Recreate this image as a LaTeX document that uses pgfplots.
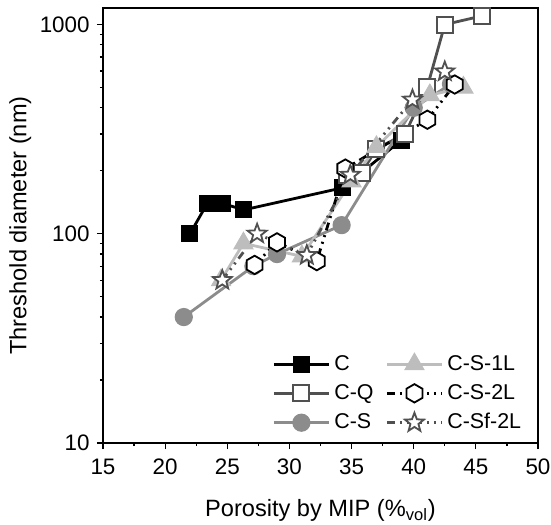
\documentclass[border=0pt]{standalone}
\usepackage{pgfplots}
\pgfplotsset{compat=1.18}
\usepackage{fontspec}
\setmainfont{Liberation Sans}
\definecolor{cq}{HTML}{505050}
\definecolor{cs}{HTML}{8C8C8C}
\definecolor{csl}{HTML}{BDBDBD}
\definecolor{csf}{HTML}{505050}
\pgfdeclareplotmark{hexagon}{%
  \pgfpathmoveto{\pgfpointpolar{90}{\pgfplotmarksize}}%
  \pgfpathlineto{\pgfpointpolar{150}{\pgfplotmarksize}}%
  \pgfpathlineto{\pgfpointpolar{210}{\pgfplotmarksize}}%
  \pgfpathlineto{\pgfpointpolar{270}{\pgfplotmarksize}}%
  \pgfpathlineto{\pgfpointpolar{330}{\pgfplotmarksize}}%
  \pgfpathlineto{\pgfpointpolar{30}{\pgfplotmarksize}}%
  \pgfpathclose
  \pgfusepathqfillstroke}
\pgfdeclareplotmark{star5}{%
  \pgfpathmoveto{\pgfpointpolar{90}{\pgfplotmarksize}}%
  \pgfpathlineto{\pgfpointpolar{126}{0.42\pgfplotmarksize}}%
  \pgfpathlineto{\pgfpointpolar{162}{\pgfplotmarksize}}%
  \pgfpathlineto{\pgfpointpolar{198}{0.42\pgfplotmarksize}}%
  \pgfpathlineto{\pgfpointpolar{234}{\pgfplotmarksize}}%
  \pgfpathlineto{\pgfpointpolar{270}{0.42\pgfplotmarksize}}%
  \pgfpathlineto{\pgfpointpolar{306}{\pgfplotmarksize}}%
  \pgfpathlineto{\pgfpointpolar{342}{0.42\pgfplotmarksize}}%
  \pgfpathlineto{\pgfpointpolar{18}{\pgfplotmarksize}}%
  \pgfpathlineto{\pgfpointpolar{54}{0.42\pgfplotmarksize}}%
  \pgfpathclose
  \pgfusepathqfillstroke}
\tikzset{
  sC/.style={black, line width=1.4pt, mark=square*, mark size=4pt, mark options={solid, fill=black, draw=black, line width=0.5pt}},
  sCQ/.style={cq, line width=1.4pt, mark=square*, mark size=4pt, mark options={solid, fill=white, draw=cq, line width=1pt}},
  sCS/.style={cs, line width=1.4pt, mark=*, mark size=4.3pt, mark options={solid, fill=cs, draw=cs, line width=0.5pt}},
  sCSL/.style={csl, line width=1.4pt, mark=triangle*, mark size=5.5pt, mark options={solid, fill=csl, draw=csl, line width=0.5pt}},
  sCS2/.style={black, line width=1.4pt, dash pattern=on 4pt off 2.5pt on 1pt off 2.5pt on 1pt off 2.5pt, mark=hexagon, mark size=4.6pt, mark options={solid, fill=white, draw=black, line width=0.9pt}},
  sCSf/.style={csf, line width=1.4pt, dash pattern=on 4pt off 2.5pt on 1pt off 2.5pt on 1pt off 2.5pt, mark=star5, mark size=5pt, mark options={solid, fill=white, draw=csf, line width=0.9pt}},
}
\begin{document}
\fontsize{10.5}{12.6}\selectfont
\begin{tikzpicture}
\begin{axis}[name=ax, width=217.5pt, height=217.5pt, scale only axis,
  xmin=15, xmax=50, ymode=log, ymin=10, ymax=1200,
  xtick={15,20,...,50}, minor x tick num=1,
  ytick={10,100,1000}, yticklabels={10,100,1000},
  minor ytick={20,30,40,50,60,70,80,90,200,300,400,500,600,700,800,900},
  xtick pos=bottom, ytick pos=left, tick align=outside,
  major tick length=3pt, minor tick length=1.6pt,
  every tick/.style={black, line width=0.6pt},
  axis line style={black, line width=0.7pt},
  /pgf/number format/assume math mode=true,
  tick label style={font=\fontsize{11.2}{13}\selectfont},
  xticklabel style={yshift=-1.2pt},
  label style={font=\fontsize{11.8}{14}\selectfont},
  xlabel={Porosity by MIP (\%\textsubscript{vol})},
  ylabel={Threshold diameter (nm)},
  xlabel style={at={(rel axis cs:0.5,-0.155)}, anchor=center},
  ylabel style={at={(rel axis cs:-0.19,0.5)}, anchor=center},
  legend columns=2,
  legend cell align=left,
  legend image code/.code={\draw[mark repeat=2,mark phase=2] plot coordinates {(0pt,0pt) (13.75pt,0pt) (27.5pt,0pt)};},
  legend style={draw=none, fill=none, at={(rel axis cs:0.985,0.006)}, anchor=south east,
    font=\fontsize{10.7}{12.8}\selectfont, row sep=1.5pt,
    /tikz/every even column/.append style={column sep=4pt}},
]
\addplot[sC, forget plot] coordinates {(22,100) (23.4,140) (24.6,140) (26.3,130) (34.3,166) (39,280)};
\addplot[sCQ, forget plot] coordinates {(34.6,190) (35.8,195) (37,255) (39.3,300) (41.1,505) (42.5,1000) (45.5,1100)};
\addplot[sCS, forget plot] coordinates {(21.5,40) (27.1,70) (29,80) (34.2,110) (40,400) (43,520)};
\addplot[sCSL, forget plot] coordinates {(24.5,60) (26.3,90) (31,78) (35,178) (37,260) (41.3,460) (44,500)};
\addplot[sCS2, forget plot] coordinates {(27.2,71) (29,91) (32.2,74) (34.5,205) (41.1,351) (43.3,517)};
\addplot[sCSf, forget plot] coordinates {(24.6,60) (27.4,100) (31.4,79) (34.9,191) (39.9,437) (42.5,596)};
\addlegendimage{sC}\addlegendentry{C}
\addlegendimage{sCSL}\addlegendentry{C-S-1L}
\addlegendimage{sCQ}\addlegendentry{C-Q}
\addlegendimage{sCS2}\addlegendentry{C-S-2L}
\addlegendimage{sCS}\addlegendentry{C-S}
\addlegendimage{sCSf}\addlegendentry{C-Sf-2L}
\end{axis}
\pgfresetboundingbox
\path[use as bounding box] ([shift={(-51.5pt,-40.5pt)}]ax.south west) rectangle ([shift={(6.5pt,4pt)}]ax.north east);
\end{tikzpicture}
\end{document}
